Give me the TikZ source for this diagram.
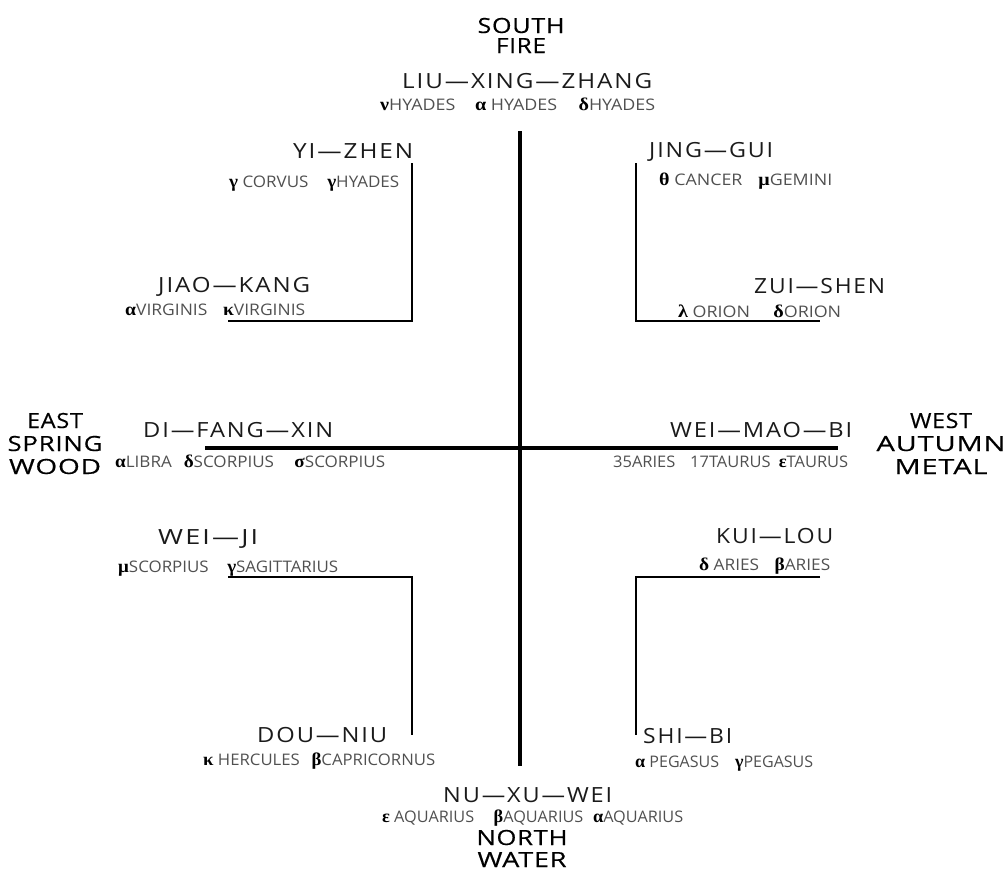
\documentclass[tikz,border=0pt]{standalone}
\usepackage{fontspec}
\usepackage{graphicx}
\setmainfont{Open Sans}
\newfontfamily\gkfont{Liberation Serif}
\definecolor{lblcol}{HTML}{1A1A1A}
\definecolor{starcol}{HTML}{505050}
\newcommand{\gk}[1]{{\gkfont\bfseries\fontsize{18}{18}\selectfont\color{black}#1}}
\newcommand{\fitto}[2]{\resizebox{#1bp}{\height}{#2}}
\tikzset{
  mainlbl/.style={anchor=base west, inner sep=0pt, text=lblcol,
    font=\fontsize{21}{21}\selectfont\addfontfeatures{LetterSpace=8}},
  starlbl/.style={anchor=base west, inner sep=0pt, text=starcol,
    font=\fontsize{16}{16}\selectfont},
  dirlbl/.style={anchor=base, inner sep=0pt, text=black,
    font=\fontsize{21}{21}\selectfont\addfontfeatures{LetterSpace=3,FakeBold=0.4}},
  axisline/.style={line width=4bp, black},
  bracketline/.style={line width=2bp, black, line join=miter}
}
\begin{document}
\begin{tikzpicture}[x=1bp,y=-1bp]
\useasboundingbox (0,0) rectangle (1008,880);
% axes
\coordinate (vN) at (520,131);
\coordinate (vS) at (520,766);
\coordinate (hW) at (205,448);
\coordinate (hE) at (838,448);
\draw[axisline] (vN) -- (vS);
\draw[axisline] (hW) -- (hE);
% brackets
\coordinate (tlA) at (412,163); \coordinate (tlB) at (412,321); \coordinate (tlC) at (228,321);
\coordinate (trA) at (636,163); \coordinate (trB) at (636,321); \coordinate (trC) at (820,321);
\coordinate (blA) at (228,577); \coordinate (blB) at (412,577); \coordinate (blC) at (412,735);
\coordinate (brA) at (820,577); \coordinate (brB) at (636,577); \coordinate (brC) at (636,735);
\draw[bracketline] (tlA) -- (tlB) -- (tlC);
\draw[bracketline] (trA) -- (trB) -- (trC);
\draw[bracketline] (blA) -- (blB) -- (blC);
\draw[bracketline] (brA) -- (brB) -- (brC);
% directions
\node[dirlbl] (south) at (521,33) {\fitto{87}{SOUTH}};
\node[dirlbl] (fire) at (521,53) {\fitto{50}{FIRE}};
\node[dirlbl] (east) at (55,428) {\fitto{56}{EAST}};
\node[dirlbl] (spring) at (55,451) {\fitto{95}{SPRING}};
\node[dirlbl] (wood) at (55,474) {\fitto{92}{WOOD}};
\node[dirlbl] (west) at (941,428) {\fitto{62}{WEST}};
\node[dirlbl] (autumn) at (941,451) {\fitto{129}{AUTUMN}};
\node[dirlbl] (metal) at (941,474) {\fitto{93}{METAL}};
\node[dirlbl] (north) at (522,845) {\fitto{91}{NORTH}};
\node[dirlbl] (water) at (522,867) {\fitto{89}{WATER}};
% mansion labels
\node[mainlbl] (liu) at (402,88) {\fitto{250}{LIU—XING—ZHANG}};
\node[mainlbl] (yi) at (293,158) {\fitto{120}{YI—ZHEN}};
\node[mainlbl] (jiao) at (158,292) {\fitto{152}{JIAO—KANG}};
\node[mainlbl] (jing) at (649,157) {\fitto{124}{JING—GUI}};
\node[mainlbl] (zui) at (754,293) {\fitto{131}{ZUI—SHEN}};
\node[mainlbl] (di) at (143,437) {\fitto{190}{DI—FANG—XIN}};
\node[mainlbl] (weimao) at (670,437) {\fitto{182}{WEI—MAO—BI}};
\node[mainlbl] (weiji) at (158,544) {\fitto{100}{WEI—JI}};
\node[mainlbl] (dou) at (257,742) {\fitto{130}{DOU—NIU}};
\node[mainlbl] (kui) at (716,543) {\fitto{117}{KUI—LOU}};
\node[mainlbl] (shi) at (643,743) {\fitto{89}{SHI—BI}};
\node[mainlbl] (nu) at (443,802) {\fitto{169}{NU—XU—WEI}};
% star labels
\node[starlbl] (sHya) at (380,110) {\fitto{275}{\gk{ν}HYADES\hspace{1.1em}\gk{α} HYADES\hspace{1.2em}\gk{δ}HYADES}};
\node[starlbl] (sCor) at (229,187) {\fitto{170}{\gk{γ} CORVUS\hspace{1.1em}\gk{γ}HYADES}};
\node[starlbl] (sVir) at (125,315) {\fitto{180}{\gk{α}VIRGINIS\hspace{0.9em}\gk{κ}VIRGINIS}};
\node[starlbl] (sCan) at (659,185) {\fitto{173}{\gk{θ} CANCER\hspace{0.9em}\gk{μ}GEMINI}};
\node[starlbl] (sOri) at (678,317) {\fitto{163}{\gk{λ} ORION\hspace{1.3em}\gk{δ}ORION}};
\node[starlbl] (sLib) at (115,467) {\fitto{270}{\gk{α}LIBRA\hspace{0.7em}\gk{δ}SCORPIUS\hspace{1.2em}\gk{σ}SCORPIUS}};
\node[starlbl] (sTau) at (613,467) {\fitto{235}{35ARIES\hspace{0.9em}17TAURUS\hspace{0.5em}\gk{ε}TAURUS}};
\node[starlbl] (sSco) at (118,572) {\fitto{220}{\gk{μ}SCORPIUS\hspace{1.1em}\gk{γ}SAGITTARIUS}};
\node[starlbl] (sHer) at (203,765) {\fitto{232}{\gk{κ} HERCULES\hspace{0.7em}\gk{β}CAPRICORNUS}};
\node[starlbl] (sAri) at (699,570) {\fitto{131}{\gk{δ} ARIES\hspace{0.9em}\gk{β}ARIES}};
\node[starlbl] (sPeg) at (635,767) {\fitto{178}{\gk{α} PEGASUS\hspace{1.0em}\gk{γ}PEGASUS}};
\node[starlbl] (sAqu) at (382,822) {\fitto{301}{\gk{ε} AQUARIUS\hspace{1.2em}\gk{β}AQUARIUS\hspace{0.6em}\gk{α}AQUARIUS}};
\end{tikzpicture}
\end{document}
